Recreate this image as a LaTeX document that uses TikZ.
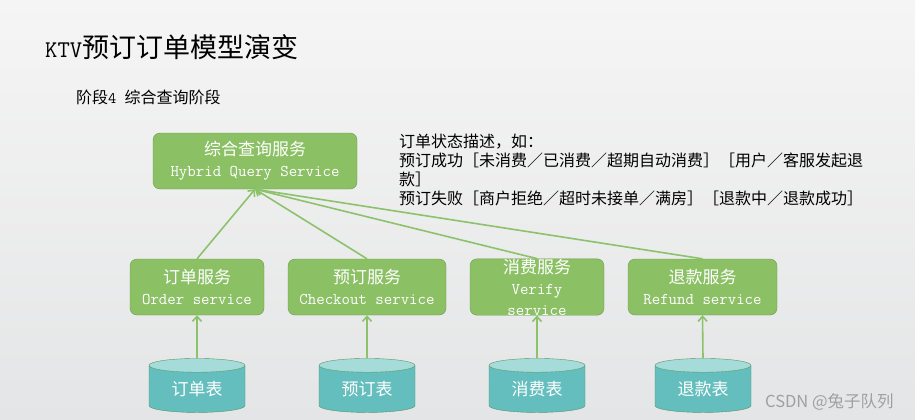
\documentclass[tikz,border=0pt]{standalone}
\usepackage{fontspec}
\setmainfont{Noto Sans CJK SC}
\usetikzlibrary{shapes.geometric,arrows.meta}

\definecolor{verdecaja}{RGB}{139,192,101}
\definecolor{bordeverde}{RGB}{108,156,76}
\definecolor{lineaverde}{RGB}{141,194,108}
\definecolor{cuerpotabla}{RGB}{99,190,189}
\definecolor{tapatabla}{RGB}{165,220,217}
\definecolor{bordetabla}{RGB}{86,150,104}
\definecolor{fondoarriba}{RGB}{245,245,245}
\definecolor{fondoabajo}{RGB}{228,229,230}
\definecolor{marca}{RGB}{160,160,160}

\begin{document}
\begin{tikzpicture}[x=1pt,y=-1pt,
    servicio/.style={draw=bordeverde, fill=verdecaja, rounded corners=7pt, text=white,
      align=center, minimum height=56pt, inner sep=0pt,
      font=\fontsize{16.4}{21}\selectfont\ttfamily},
    tabla/.style={cylinder, shape border rotate=90, aspect=0.27, draw=bordetabla,
      cylinder uses custom fill, cylinder body fill=cuerpotabla, cylinder end fill=tapatabla,
      minimum width=96pt, minimum height=54pt, inner sep=0pt, text=white,
      font=\fontsize{17}{20}\selectfont},
    flecha/.style={draw=lineaverde, line width=1.6pt, -{Straight Barb[length=5pt,width=9pt]}}]
    % Fondo de la diapositiva
    \useasboundingbox (0,0) rectangle (915,420);
    \shade[top color=fondoarriba, bottom color=fondoabajo] (0,0) rectangle (915,420);

    % Titulo y subtitulo
    \node[anchor=west, inner sep=0pt, font=\fontsize{27}{30}\selectfont] (titulo) at (45,47)
        {{\fontsize{24}{30}\selectfont\ttfamily KTV}预订订单模型演变};
    \node[anchor=west, inner sep=0pt, font=\fontsize{16}{19}\selectfont] (subtitulo) at (76,97)
        {阶段{\fontsize{16}{19}\selectfont\ttfamily 4 }综合查询阶段};

    % Servicio de consulta combinada
    \node[servicio, minimum width=204pt] (hibrido) at (255,161)
        {{\fontsize{17}{21}\selectfont\rmfamily 综合查询服务}\\Hybrid Query Service};

    % Descripcion de los estados del pedido
    \node[anchor=north west, inner sep=0pt, align=left, font=\fontsize{16}{19}\selectfont] (estado) at (399,134)
        {订单状态描述，如：\\
         预订成功［未消费／已消费／超期自动消费］［用户／客服发起退\\
         款］\\
         预订失败［商户拒绝／超时未接单／满房］［退款中／退款成功］};

    % Servicios de cada etapa
    \foreach \n/\x/\w/\cn/\en in {orden/197/134/订单服务/Order service,
                                   reserva/367/158/预订服务/Checkout service,
                                   consumo/537/134/消费服务/{Verify\\service},
                                   reembolso/702.5/149/退款服务/Refund service}
        \node[servicio, minimum width=\w pt] (\n) at (\x,287)
            {{\fontsize{17}{21}\selectfont\rmfamily \cn}\\\en};

    % Tablas de datos
    \foreach \n/\x/\t in {torden/197/订单表, treserva/367/预订表,
                          tconsumo/537/消费表, treembolso/703/退款表}
        \node[tabla] (\n) at (\x,389) {\t};

    % Flechas
    \foreach \s in {orden,reserva,consumo,reembolso}
        \draw[flecha] (\s.north) -- (hibrido.south);
    \foreach \s in {orden,reserva,consumo,reembolso}
        \draw[flecha] (t\s.north) -- (\s.south);

    % Marca de agua
    \node[anchor=west, inner sep=0pt, text=marca, font=\fontsize{16.5}{18}\selectfont] (marcaagua) at (765,402)
        {CSDN @兔子队列};
\end{tikzpicture}
\end{document}
